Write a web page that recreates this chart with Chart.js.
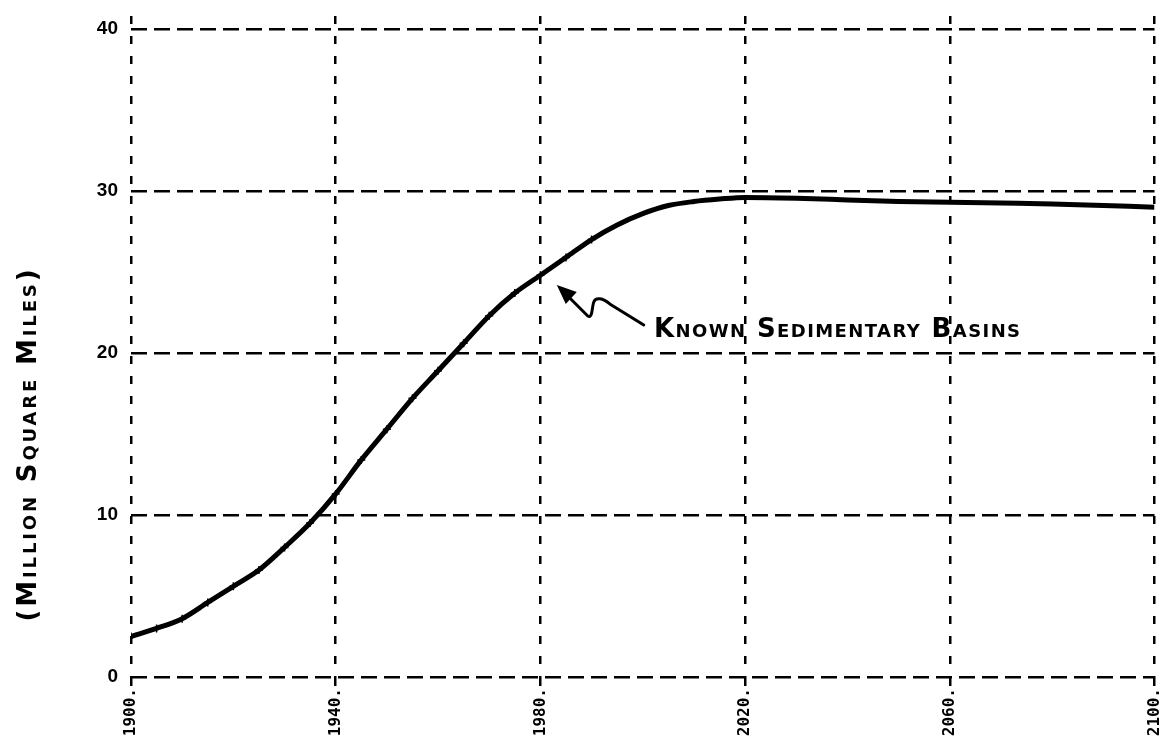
<!DOCTYPE html>
<html>
<head>
<meta charset="utf-8">
<script src="https://cdn.jsdelivr.net/npm/chart.js@4/dist/chart.umd.min.js"></script>
<style>
  html, body { margin: 0; padding: 0; background: #fff; }
  canvas { display: block; }
</style>
</head>
<body>
<canvas id="c" width="1160" height="748"></canvas>
<script>
// ---- data ----
const years = [1900,1905,1910,1915,1920,1925,1930,1935,1940,1945,1950,1955,1960,1965,1970,1975,1980,1985,1990,1995,2000,2005,2010,2015,2020,2030,2040,2050,2060,2070,2080,2090,2100];
const areaValues = [2.5,3.0,3.6,4.6,5.6,6.6,8.0,9.5,11.3,13.4,15.3,17.2,18.9,20.6,22.3,23.7,24.8,25.9,27.0,27.9,28.6,29.1,29.35,29.5,29.6,29.55,29.45,29.35,29.3,29.25,29.2,29.1,29.0];
const xTickYears = [1900,1940,1980,2020,2060,2100];
const yTickValues = [0,10,20,30,40];
const seriesLabel = 'Known Sedimentary Basins';
const yAxisTitle = '(Million Square Miles)';
const annotationText = 'Known Sedimentary Basins';
const annotationAnchor = { x: 2002.2, y: 21.4 };
const arrowTip = { x: 1983.2, y: 24.2 };
const markedUntilYear = 1990;

// ---- helpers ----
function fitSmallCaps(ctx, text, size, weight, family, targetWidth) {
  ctx.font = weight + ' ' + size + 'px ' + family;
  try { ctx.fontVariantCaps = 'small-caps'; } catch (e) {}
  try { ctx.letterSpacing = '0px'; } catch (e) {}
  const w = ctx.measureText(text).width;
  const sp = (targetWidth - w) / Math.max(1, text.length - 1);
  try { ctx.letterSpacing = sp.toFixed(2) + 'px'; } catch (e) {}
}

const notesPlugin = {
  id: 'handNotes',
  afterDraw(chart) {
    const { ctx, scales: { x, y } } = chart;
    ctx.save();
    ctx.fillStyle = '#000';
    ctx.strokeStyle = '#000';

    // y axis title (rotated)
    ctx.save();
    ctx.translate(29, 444);
    ctx.rotate(-Math.PI / 2);
    fitSmallCaps(ctx, yAxisTitle, 26, 'bold', '"DejaVu Sans"', 352);
    ctx.textAlign = 'center';
    ctx.textBaseline = 'middle';
    ctx.fillText(yAxisTitle, 0, 0);
    ctx.restore();

    // annotation text
    ctx.save();
    fitSmallCaps(ctx, annotationText, 26, 'bold', '"DejaVu Sans"', 366);
    ctx.textAlign = 'left';
    ctx.textBaseline = 'middle';
    ctx.fillText(annotationText, x.getPixelForValue(annotationAnchor.x), y.getPixelForValue(annotationAnchor.y));
    ctx.restore();

    // wavy arrow pointing at the curve
    const tx = x.getPixelForValue(arrowTip.x);
    const ty = y.getPixelForValue(arrowTip.y);
    ctx.save();
    ctx.translate(tx, ty);
    ctx.lineWidth = 3;
    ctx.lineCap = 'round';
    ctx.lineJoin = 'round';
    ctx.beginPath();
    ctx.moveTo(12, 12);
    ctx.lineTo(31, 31);
    ctx.bezierCurveTo(36, 34, 35, 22, 37, 17);
    ctx.bezierCurveTo(39, 12, 46, 13, 53, 19);
    ctx.lineTo(87, 40);
    ctx.stroke();
    ctx.beginPath();
    ctx.moveTo(0, 0);
    ctx.lineTo(20, 7);
    ctx.lineTo(9, 19);
    ctx.closePath();
    ctx.fill();
    ctx.restore();

    ctx.restore();
  }
};

new Chart(document.getElementById('c').getContext('2d'), {
  type: 'line',
  data: {
    datasets: [{
      label: seriesLabel,
      data: years.map((yr, i) => ({ x: yr, y: areaValues[i] })),
      borderColor: '#000',
      backgroundColor: '#000',
      borderWidth: 5,
      cubicInterpolationMode: 'monotone',
      fill: false,
      pointStyle: 'cross',
      pointRadius: c => (c.raw && c.raw.x <= markedUntilYear ? 4 : 0),
      pointBorderWidth: 1.5,
      pointBorderColor: '#000'
    }]
  },
  options: {
    responsive: false,
    devicePixelRatio: 1,
    animation: false,
    layout: { padding: { top: 16, right: 5, left: 0, bottom: 0 } },
    plugins: { legend: { display: false }, tooltip: { enabled: false }, title: { display: false } },
    scales: {
      x: {
        type: 'linear',
        min: 1900,
        max: 2100,
        afterBuildTicks: s => { s.ticks = xTickYears.map(v => ({ value: v })); },
        afterFit: s => { s.height = 71; s.paddingRight = 0; s.paddingLeft = 0; },
        ticks: {
          autoSkip: false,
          maxRotation: 90,
          minRotation: 90,
          padding: 2,
          color: '#000',
          font: { family: '"DejaVu Sans Mono"', size: 16, weight: 'bold' },
          callback: v => v + '.'
        },
        grid: { color: '#000', lineWidth: 2.5, drawTicks: true, tickLength: 9 },
        border: { display: false, dash: [8, 12] }
      },
      y: {
        type: 'linear',
        min: 0,
        max: 40.8,
        afterBuildTicks: s => { s.ticks = yTickValues.map(v => ({ value: v })); },
        afterFit: s => { s.width = 131; s.paddingTop = 0; s.paddingBottom = 0; },
        ticks: {
          padding: 13,
          color: '#000',
          font: { family: '"Liberation Sans"', size: 19, weight: 'bold' }
        },
        grid: { color: '#000', lineWidth: 2.5, drawTicks: false },
        border: { display: false, dash: [16, 7] }
      }
    }
  },
  plugins: [notesPlugin]
});
</script>
</body>
</html>
